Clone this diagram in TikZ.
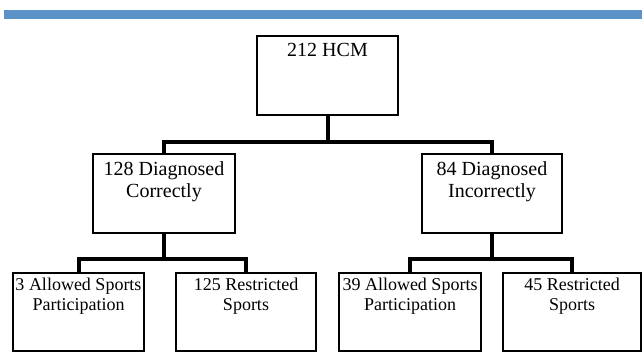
\documentclass[tikz,border=0pt]{standalone}
\usepackage{fontspec}
\setmainfont{Liberation Serif}
\definecolor{barblue}{RGB}{91, 146, 199}
\usetikzlibrary{positioning, calc}

\begin{document}
\begin{tikzpicture}[x=1pt, y=-1pt,
  box/.style={draw, line width=1.3pt, minimum width=#1, minimum height=79pt, inner sep=0pt},
  box/.default=141pt,
  leaf/.style={box=#1, minimum height=78pt},
  toptext/.style={anchor=north, align=center, inner sep=0pt, yshift=-8pt, font=\fontsize{20}{22}\selectfont},
  leaftext/.style={anchor=north, align=center, inner sep=0pt, yshift=-5pt, font=\fontsize{18}{20.5}\selectfont},
  link/.style={line width=4pt}
]
  \useasboundingbox (0,0) rectangle (642,362);

  % Header bar
  \fill[barblue] (4,10) rectangle (642,19);

  % Root
  \node[box, label={[toptext]north:212 HCM}] (hcm) at (327.5, 75.5) {};

  % Diagnosis
  \node[box=142pt, label={[toptext]north:{128 Diagnosed\\Correctly}}] (correct) at (164, 193.5) {};
  \node[box=140pt, label={[toptext]north:{84 Diagnosed\\Incorrectly}}] (incorrect) at (492, 193.5) {};

  % Sports decision
  \node[leaf=131pt, label={[leaftext]north:{3 Allowed Sports\\Participation}}] (allowA) at (78.5, 312) {};
  \node[leaf=140pt, label={[leaftext]north:{125 Restricted\\Sports}}] (restrA) at (246, 312) {};
  \node[leaf=142pt, label={[leaftext]north:{39 Allowed Sports\\Participation}}] (allowB) at (410, 312) {};
  \node[leaf=138pt, label={[leaftext]north:{45 Restricted\\Sports}}] (restrB) at (572, 312) {};

  % Connectors
  \draw[link] (hcm.south) -- ++(0,26) coordinate (j0);
  \draw[link] (correct.north) |- (j0) -| (incorrect.north);

  \draw[link] (correct.south) -- ++(0,25) coordinate (j1);
  \draw[link] (allowA.north) |- (j1) -| (restrA.north);

  \draw[link] (incorrect.south) -- ++(0,25) coordinate (j2);
  \draw[link] (allowB.north) |- (j2) -| (restrB.north);
\end{tikzpicture}
\end{document}
